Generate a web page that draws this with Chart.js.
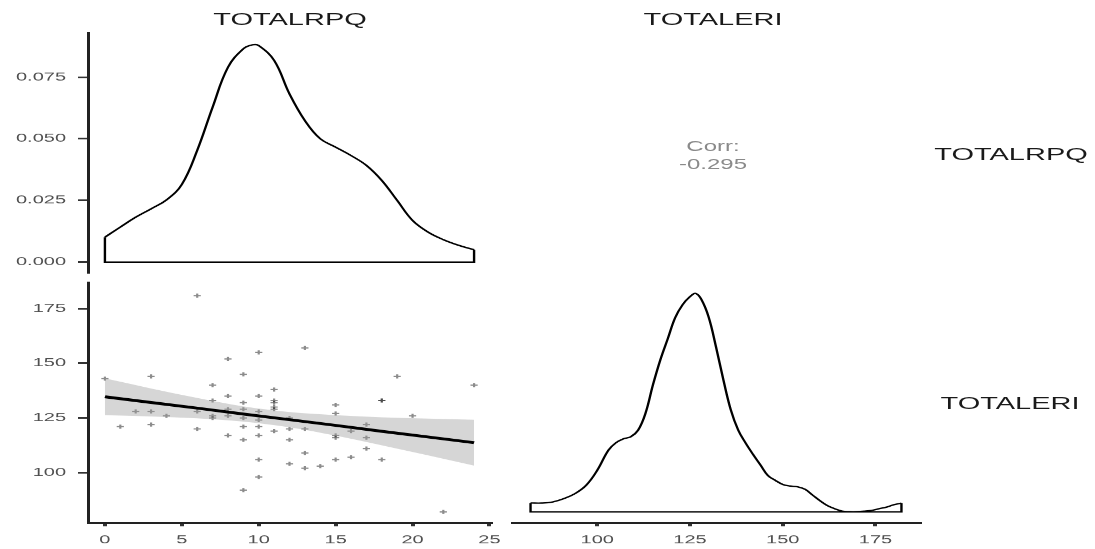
<!DOCTYPE html>
<html>
<head>
<meta charset="utf-8">
<script src="https://cdn.jsdelivr.net/npm/chart.js@4/dist/chart.umd.min.js"></script>
<style>
html,body{margin:0;padding:0;background:#fff;overflow:hidden;width:1095px;height:549px}
#wrap{position:absolute;left:0;top:0;width:1095px;height:961px;transform:scaleY(0.571279);transform-origin:0 0}
canvas{position:absolute;left:0;top:0}
.lab{position:absolute;font-family:"Liberation Sans",Arial,sans-serif;white-space:nowrap;transform:translate(-50%,-50%);line-height:1}
.strip{font-size:29px;color:#1a1a1a}
.corr{font-size:24px;color:#8a8a8a;text-align:center;line-height:30px}
</style>
</head>
<body>
<div id="wrap">
<canvas id="tl" width="1095" height="961" style="width:1095px;height:961px"></canvas>
<canvas id="bl" width="1095" height="961" style="width:1095px;height:961px"></canvas>
<canvas id="br" width="1095" height="961" style="width:1095px;height:961px"></canvas>
<div class="lab strip" id="s1" style="left:290px;top:35px">TOTALRPQ</div>
<div class="lab strip" id="s2" style="left:713px;top:35px">TOTALERI</div>
<div class="lab strip" id="s3" style="left:1011px;top:271px">TOTALRPQ</div>
<div class="lab strip" id="s4" style="left:1010px;top:707px">TOTALERI</div>
<div class="lab corr" id="corr" style="left:713px;top:272px">Corr:<br>-0.295</div>
</div>
<script>
// ---- data ----
const variables = ['TOTALRPQ', 'TOTALERI'];
const corrValue = '-0.295';

// scatter: TOTALRPQ (x) vs TOTALERI (y)
const rpq = [0,1,2,3,3,3,4,6,6,6,7,7,7,7,8,8,8,8,8,9,9,9,9,9,9,9,10,10,10,10,10,10,10,10,11,11,11,11,11,11,12,12,12,12,13,13,13,13,14,15,15,15,15,15,16,16,17,17,17,18,18,18,19,20,22,24];
const eri = [143,121,128,144,128,122,126,181,128,120,140,133,126,125,152,135,129,126,117,145,132,129,125,121,115,92,155,135,128,124,121,117,106,98,138,133,132,130,129,119,125,120,115,104,157,120,109,102,103,131,127,117,116,106,119,107,122,116,111,133,133,106,144,126,82,140];

// linear fit and its confidence band
const fitX = [0,3,6,9,12,15,18,21,24];
const fitY = [134.7,132.1,129.5,126.8,124.2,121.6,118.9,116.3,113.7];
const bandLow = [126.3,125.7,124.8,123.3,120.7,116.9,112.5,107.9,103.2];
const bandHigh = [143.1,138.5,134.2,130.3,127.7,126.3,125.3,124.7,124.2];

// density of TOTALRPQ
const rpqGrid = [0,1,2,3,4,5,6,7,8,9,9.6,10,11,12,13,14,15,16,17,18,19,20,21,22,23,24];
const rpqDensity = [0.0101,0.0142,0.0182,0.0216,0.0252,0.0315,0.0453,0.0628,0.079,0.0865,0.0881,0.0878,0.0818,0.0682,0.0574,0.05,0.0466,0.0432,0.0392,0.0331,0.025,0.0169,0.0122,0.0091,0.0068,0.005];

// density of TOTALERI
const eriGrid = [82,85,88,91,94,97,100,103,105,107,109,111,113,115,117,119,121,123,125,126.5,128,130,132,134,136,138,140,142,144,146,148,150,152,154,156,158,160,162,164,166,168,170,172,174,176,178,180,182];
const eriDensity = [0.00111,0.0011,0.00124,0.00165,0.00227,0.0033,0.00516,0.00763,0.00854,0.00903,0.00928,0.0101,0.0122,0.0157,0.0188,0.0214,0.024,0.0256,0.0266,0.027,0.0263,0.0241,0.0204,0.0163,0.0126,0.0101,0.0085,0.0071,0.0058,0.0045,0.0039,0.0034,0.0032,0.0031,0.0028,0.0021,0.0014,0.0008,0.0004,0.0001,0.00004,0.00004,0.0001,0.0002,0.0004,0.0006,0.0009,0.0011];

// ticks
const densTicks = [0, 0.025, 0.05, 0.075];
const densTickLabels = ['0.000', '0.025', '0.050', '0.075'];
const rpqTicks = [0, 5, 10, 15, 20, 25];
const rpqTickLabels = ['0', '5', '10', '15', '20', '25'];
const eriTicks = [100, 125, 150, 175];
const eriTickLabels = ['100', '125', '150', '175'];

// ---- layout (design space, squashed vertically by CSS) ----
const W = 1095, H = 961;
const colL = [88, 491], colR = [512, 920];
const rowT = [57.75, 477.75], rowB = [494.4, 915.25];
const axisW = 88, axisH = H - rowB[1];

const tickFont = {family: 'Liberation Sans', size: 20};
const tickColor = '#505050';

function yAxis(min, max, ticks, labels, show) {
  if (!show) return {type: 'linear', min, max, display: false};
  return {
    type: 'linear', min, max,
    afterFit: s => { s.width = axisW; },
    afterBuildTicks: s => { s.ticks = ticks.map(v => ({value: v})); },
    ticks: {callback: (v, i) => labels[i], color: tickColor, font: tickFont, padding: 12, autoSkip: false},
    grid: {drawOnChartArea: false, drawTicks: true, tickLength: 10, color: '#333', lineWidth: 3},
    border: {display: true, color: '#222', width: 3}
  };
}
function xAxis(min, max, ticks, labels, show) {
  if (!show) return {type: 'linear', min, max, display: false};
  return {
    type: 'linear', min, max,
    afterFit: s => { s.height = axisH; },
    afterBuildTicks: s => { s.ticks = ticks.map(v => ({value: v})); },
    ticks: {callback: (v, i) => labels[i], color: tickColor, font: tickFont, padding: 12, autoSkip: false, maxRotation: 0},
    grid: {drawOnChartArea: false, drawTicks: true, tickLength: 6, color: '#333', lineWidth: 4},
    border: {display: true, color: '#222', width: 3}
  };
}
function baseOpts(padding, scales) {
  return {
    responsive: false, animation: false, events: [],
    layout: {padding},
    plugins: {legend: {display: false}, tooltip: {enabled: false}},
    scales
  };
}
function densitySets(grid, dens) {
  const n = grid.length - 1;
  return [
    {data: grid.map((x, i) => ({x, y: dens[i]})), borderColor: '#000', borderWidth: 2.4, pointRadius: 0, tension: 0.4, fill: false},
    {data: [{x: grid[0], y: dens[0]}, {x: grid[0], y: 0}, {x: grid[n], y: 0}, {x: grid[n], y: dens[n]}], borderColor: '#000', borderWidth: 2.4, pointRadius: 0, tension: 0, fill: false}
  ];
}

const rpqRange = [-1.1, 25.1];
const eriRange = [77, 187];

// top-left: density of TOTALRPQ
new Chart(document.getElementById('tl'), {
  type: 'line',
  data: {datasets: densitySets(rpqGrid, rpqDensity)},
  options: baseOpts({left: 0, top: rowT[0], right: W - colL[1], bottom: H - rowT[1]}, {
    x: xAxis(rpqRange[0], rpqRange[1], rpqTicks, rpqTickLabels, false),
    y: yAxis(-0.0044, 0.0929, densTicks, densTickLabels, true)
  })
});

// bottom-left: scatter + lm fit
new Chart(document.getElementById('bl'), {
  type: 'line',
  data: {datasets: [
    {data: fitX.map((x, i) => ({x, y: fitY[i]})), borderColor: '#000', borderWidth: 5, pointRadius: 0, fill: false, tension: 0},
    {data: fitX.map((x, i) => ({x, y: bandHigh[i]})), borderWidth: 0, borderColor: 'rgba(0,0,0,0)', pointRadius: 0, fill: '+1', backgroundColor: 'rgba(153,153,153,0.4)', cubicInterpolationMode: 'monotone'},
    {data: fitX.map((x, i) => ({x, y: bandLow[i]})), borderWidth: 0, borderColor: 'rgba(0,0,0,0)', pointRadius: 0, fill: false, cubicInterpolationMode: 'monotone'},
    {data: rpq.map((x, i) => ({x, y: eri[i]})), showLine: false, pointStyle: 'cross', pointRadius: 3.6, pointBorderWidth: 2.2, borderColor: 'rgba(0,0,0,0.45)', pointBorderColor: 'rgba(0,0,0,0.45)', fill: false}
  ]},
  options: baseOpts({left: 0, top: rowB[0], right: W - colL[1], bottom: 0}, {
    x: xAxis(rpqRange[0], rpqRange[1], rpqTicks, rpqTickLabels, true),
    y: yAxis(eriRange[0], eriRange[1], eriTicks, eriTickLabels, true)
  })
});

// bottom-right: density of TOTALERI
new Chart(document.getElementById('br'), {
  type: 'line',
  data: {datasets: densitySets(eriGrid, eriDensity)},
  options: baseOpts({left: colR[0], top: rowB[0], right: W - colR[1], bottom: 0}, {
    x: xAxis(eriRange[0], eriRange[1], eriTicks, eriTickLabels, true),
    y: yAxis(-0.00135, 0.02835, densTicks, densTickLabels, false)
  })
});
</script>
</body>
</html>
